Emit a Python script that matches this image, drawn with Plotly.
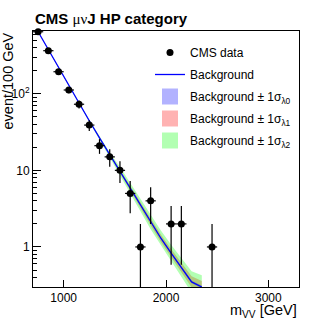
import math
import plotly.graph_objects as go

# ---- data ----
data_mass = [750, 850, 950, 1050, 1150, 1250, 1350, 1450, 1550, 1650, 1750, 1850, 2050, 2150, 2450]
data_counts = [645, 365, 194, 112, 73, 39, 21, 15, 10, 5, 1, 4, 2, 2, 1]
bin_half_width = 50

bkg_mass = [750, 850, 950, 1050, 1150, 1250, 1350, 1450, 1550, 1650, 1750, 1850, 1950, 2050, 2150, 2250, 2350]
bkg_values = [646, 375, 218, 128, 75, 44.5, 26.5, 16.0, 9.8, 5.9, 3.5, 2.1, 1.3, 0.83, 0.54, 0.35, 0.30]
# relative 1-sigma uncertainties of the three background bands
rel_lambda0 = [0.002, 0.002, 0.003, 0.003, 0.004, 0.005, 0.006, 0.008, 0.012, 0.016, 0.02, 0.025, 0.03, 0.035, 0.04, 0.045, 0.05]
rel_lambda1 = [0.004, 0.005, 0.006, 0.008, 0.011, 0.016, 0.02, 0.03, 0.05, 0.075, 0.09, 0.105, 0.12, 0.135, 0.155, 0.18, 0.2]
rel_lambda2 = [0.008, 0.009, 0.012, 0.016, 0.022, 0.032, 0.045, 0.07, 0.13, 0.17, 0.2, 0.23, 0.26, 0.29, 0.33, 0.38, 0.42]

x_range = [700, 3300]
y_range = [0.3, 660]
x_tick_vals = [1000, 2000, 3000]
y_tick_vals = [1, 10, 100]
y_tick_text = ["1", "10", "10<sup>2</sup>"]
y_minor_vals = [0.3, 0.4, 0.5, 0.6, 0.7, 0.8, 0.9,
                2, 3, 4, 5, 6, 7, 8, 9,
                20, 30, 40, 50, 60, 70, 80, 90,
                200, 300, 400, 500, 600]

W, H = 332, 319
ML, MR, MT, MB = 33, 33, 31, 32
PW, PH = W - ML - MR, H - MT - MB
FONT = "Liberation Sans, Arial, Helvetica, sans-serif"

fig = go.Figure()

band_specs = [
    ("Background \u00b1 1\u03c3<sub>\u03bb0</sub>", rel_lambda0, "rgba(0,0,255,0.3)"),
    ("Background \u00b1 1\u03c3<sub>\u03bb1</sub>", rel_lambda1, "rgba(255,0,0,0.3)"),
    ("Background \u00b1 1\u03c3<sub>\u03bb2</sub>", rel_lambda2, "rgba(0,255,0,0.3)"),
]

# uncertainty bands (drawn first, below line and data)
for i, (name, rel, col) in enumerate(band_specs):
    up = [b * (1 + r) for b, r in zip(bkg_values, rel)]
    dn = [b / (1 + r) for b, r in zip(bkg_values, rel)]
    fig.add_trace(go.Scatter(
        x=bkg_mass + bkg_mass[::-1], y=up + dn[::-1], fill="toself", fillcolor=col,
        mode="lines", line=dict(width=0, color=col), name=name, showlegend=False,
        hoverinfo="skip",
    ))

fig.add_trace(go.Scatter(
    x=bkg_mass, y=bkg_values, mode="lines", name="Background",
    line=dict(color="#0000ff", width=1.3), legendgroup="b", legendrank=2,
))

# data points
fig.add_trace(go.Scatter(
    x=data_mass, y=data_counts, mode="markers", name="CMS data", cliponaxis=False,
    marker=dict(color="black", size=7),
    error_y=dict(type="data", array=[math.sqrt(n) for n in data_counts], color="black", thickness=1.2, width=0),
    error_x=dict(type="data", array=[bin_half_width] * len(data_mass), color="black", thickness=1.2, width=0),
    legendgroup="a", legendrank=1,
))

# legend entries for the bands (box swatches)
for i, (name, rel, col) in enumerate(band_specs):
    fig.add_trace(go.Scatter(
        x=[None], y=[None], mode="markers", name=name,
        marker=dict(symbol="square", size=16, color=col, line=dict(width=0)),
        legendgroup="c%d" % i, legendrank=3 + i,
    ))

fig.update_layout(
    width=W, height=H,
    margin=dict(l=ML, r=MR, t=MT, b=MB),
    paper_bgcolor="white", plot_bgcolor="white",
    font=dict(family=FONT, size=12, color="black"),
    showlegend=True,
    legend=dict(x=(150 - ML) / PW, y=1 - 7 / PH, xanchor="left", yanchor="top",
                bgcolor="rgba(0,0,0,0)", font=dict(size=12, family=FONT), tracegroupgap=3,
                traceorder="grouped", itemsizing="trace"),
    xaxis=dict(type="linear", range=x_range, showgrid=False, zeroline=False,
               showline=True, mirror=True, linecolor="black", linewidth=1,
               ticks="inside", ticklen=7, tickcolor="black", tickvals=x_tick_vals,
               tickfont=dict(size=12, family=FONT)),
    yaxis=dict(type="log", range=[math.log10(y_range[0]), math.log10(y_range[1])], showgrid=False, zeroline=False,
               showline=True, mirror=True, linecolor="black", linewidth=1,
               ticks="inside", ticklen=8, tickcolor="black", tickvals=y_tick_vals, ticktext=y_tick_text,
               tickfont=dict(size=12, family=FONT),
               minor=dict(ticks="inside", ticklen=4, tickcolor="black", showgrid=False,
                          tickmode="array", tickvals=y_minor_vals)),
)

fig.add_annotation(xref="paper", yref="paper", x=0, y=1, xanchor="left", yanchor="bottom", yshift=2,
                   text="<b>CMS</b> <span style='font-family:Liberation Serif'>\u03bc\u03bd</span><b>J HP category</b>",
                   showarrow=False, font=dict(size=15, family=FONT))
fig.add_annotation(xref="paper", yref="paper", x=-(33 - 7) / PW, y=1, xanchor="center", yanchor="top",
                   text="event/100 GeV", textangle=-90, showarrow=False, font=dict(size=14.5, family=FONT))
fig.add_annotation(xref="paper", yref="paper", x=1, y=0, xanchor="right", yanchor="top", yshift=-13,
                   text="m<sub>VV</sub> [GeV]", showarrow=False, font=dict(size=14.5, family=FONT))

fig.write_html("out.html", config={"displayModeBar": False},
               post_script="document.body.style.margin='0';document.body.style.padding='0';")
